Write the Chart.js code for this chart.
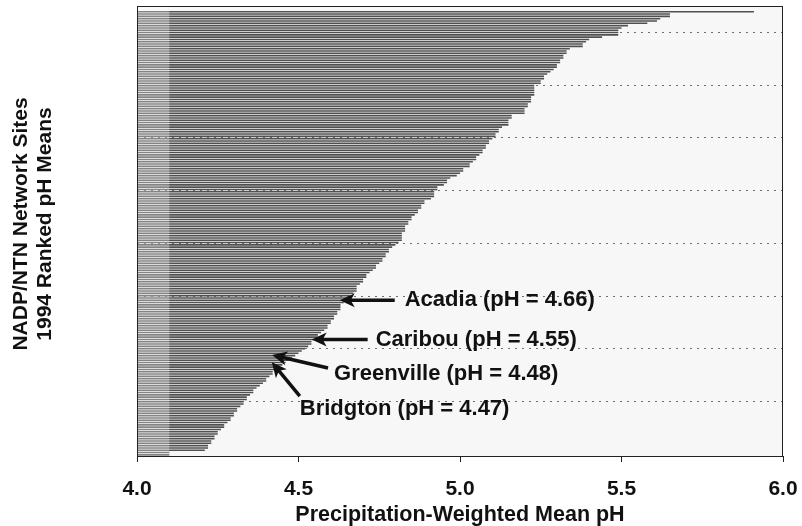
<!DOCTYPE html>
<html lang="en">
<head>
<meta charset="UTF-8">
<title>NADP/NTN Network Sites - 1994 Ranked pH Means</title>
<script src="https://cdn.jsdelivr.net/npm/chart.js"></script>
<style>
  body { margin: 0; background: #fff; }
  #wrap { width: 802px; height: 526px; }
</style>
</head>
<body>
<div id="wrap"><canvas id="chartPH"></canvas></div>
<script>
  // precipitation-weighted mean pH per site, ranked from highest (top) to lowest
  const phMeans = [
    null, null,
    5.91, 5.65, 5.65, 5.62, 5.61, 5.58, 5.52, 5.50, 5.49, 5.49,
    5.49, 5.44, 5.40, 5.39, 5.38, 5.38, 5.34, 5.33, 5.33, 5.32,
    5.32, 5.31, 5.31, 5.30, 5.30, 5.29, 5.28, 5.27, 5.26, 5.26,
    5.25, 5.25, 5.23, 5.23, 5.23, 5.23, 5.23, 5.22, 5.22, 5.22,
    5.21, 5.21, 5.20, 5.20, 5.20, 5.16, 5.16, 5.15, 5.15, 5.15,
    5.13, 5.12, 5.12, 5.11, 5.11, 5.10, 5.09, 5.09, 5.08, 5.08,
    5.07, 5.07, 5.06, 5.05, 5.05, 5.04, 5.03, 5.03, 5.01, 5.01,
    5.00, 4.99, 4.97, 4.96, 4.96, 4.95, 4.93, 4.93, 4.92, 4.92,
    4.92, 4.91, 4.89, 4.89, 4.88, 4.88, 4.87, 4.87, 4.86, 4.85,
    4.85, 4.84, 4.84, 4.83, 4.83, 4.83, 4.82, 4.82, 4.82, 4.82,
    4.81, 4.80, 4.79, 4.78, 4.78, 4.77, 4.77, 4.76, 4.76, 4.75,
    4.74, 4.74, 4.73, 4.72, 4.71, 4.71, 4.70, 4.70, 4.69, 4.68,
    4.68, 4.68, 4.67, 4.66, 4.65, 4.64, 4.64, 4.63, 4.63, 4.63,
    4.62, 4.62, 4.61, 4.61, 4.60, 4.60, 4.59, 4.59, 4.58, 4.57,
    4.56, 4.56, 4.55, 4.54, 4.54, 4.53, 4.52, 4.51, 4.50, 4.49,
    4.48, 4.47, 4.46, 4.45, 4.44, 4.43, 4.42, 4.42, 4.41, 4.40,
    4.40, 4.39, 4.38, 4.37, 4.36, 4.36, 4.35, 4.34, 4.34, 4.33,
    4.33, 4.32, 4.31, 4.31, 4.30, 4.30, 4.29, 4.29, 4.28, 4.27,
    4.27, 4.26, 4.25, 4.25, 4.24, 4.24, 4.23, 4.23, 4.22, 4.22,
    4.21, 4.10, 4.10
  ];
  const siteRanks = phMeans.map((v, i) => String(i + 1));

  const xTicks = [4.0, 4.5, 5.0, 5.5, 6.0];
  // dotted reference lines, counted in ranks from the bottom of the plot
  const gridRanks = [25, 50, 75, 100, 125, 150, 175, 200];
  const RANK_MIN = -1.08, RANK_MAX = 212.33;

  const notedSites = ['Acadia', 'Caribou', 'Greenville', 'Bridgton'];
  const notedPH = [4.66, 4.55, 4.48, 4.47];
  const notedIndex = [127, 144, 152, 153];

  const yTitle = ['NADP/NTN Network Sites', '1994 Ranked pH Means'];
  const xTitle = 'Precipitation-Weighted Mean pH';

  const FONT = '"Liberation Sans", Arial, sans-serif';

  // where the arrow tail and the label sit, relative to the arrow tip (px)
  const noteLayout = [
    { tip: [-4, 0],   tail: [55, 0],  text: [65, 0] },
    { tip: [-3, 0],   tail: [56, 0],  text: [64, 0] },
    { tip: [-20, -3], tail: [56, 13], text: [62, 19] },
    { tip: [-17, 2],  tail: [28, 34], text: [28, 47] }
  ];

  function drawArrow(ctx, x0, y0, x1, y1) {
    const a = Math.atan2(y1 - y0, x1 - x0);
    const head = 15, half = 7;
    const cos = Math.cos(a), sin = Math.sin(a);
    const bx = x1 - head * cos, by = y1 - head * sin;
    ctx.lineWidth = 3.5;
    ctx.beginPath();
    ctx.moveTo(x0, y0);
    ctx.lineTo(x1 - 10 * cos, y1 - 10 * sin);
    ctx.stroke();
    ctx.beginPath();
    ctx.moveTo(x1, y1);
    ctx.lineTo(bx + half * sin, by - half * cos);
    ctx.lineTo(x1 - 11 * cos, y1 - 11 * sin);
    ctx.lineTo(bx - half * sin, by + half * cos);
    ctx.closePath();
    ctx.fill();
  }

  const framePlugin = {
    id: 'framePlugin',
    beforeDraw(chart) {
      const { ctx, chartArea: a } = chart;
      ctx.save();
      ctx.fillStyle = '#f7f7f7';
      ctx.fillRect(a.left, a.top, a.right - a.left, a.bottom - a.top);
      ctx.restore();
    },
    beforeDatasetsDraw(chart) {
      // dotted rank gridlines
      const { ctx, chartArea: a } = chart;
      const h = a.bottom - a.top;
      ctx.save();
      ctx.strokeStyle = '#707070';
      ctx.lineWidth = 1;
      ctx.setLineDash([2, 5]);
      gridRanks.forEach(r => {
        const y = Math.round(a.bottom - (r - RANK_MIN) / (RANK_MAX - RANK_MIN) * h) + 0.5;
        ctx.beginPath();
        ctx.moveTo(a.left, y);
        ctx.lineTo(a.right, y);
        ctx.stroke();
      });
      ctx.restore();
    },
    afterDatasetsDraw(chart) {
      const { ctx, chartArea: a } = chart;
      const xs = chart.scales.x, ys = chart.scales.y;
      ctx.save();
      // lighter band between 4.0 and 4.1
      const s0 = xs.getPixelForValue(4.0), s1 = xs.getPixelForValue(4.1);
      ctx.fillStyle = 'rgba(255,255,255,0.3)';
      ctx.fillRect(s0, a.top, s1 - s0, a.bottom - a.top);
      // frame
      ctx.strokeStyle = '#222';
      ctx.lineWidth = 1;
      ctx.strokeRect(a.left + 0.5, a.top + 0.5, a.right - a.left - 1, a.bottom - a.top);

      // arrows and labels
      ctx.fillStyle = '#111';
      ctx.strokeStyle = '#111';
      ctx.font = 'bold 22px ' + FONT;
      ctx.textBaseline = 'middle';
      ctx.textAlign = 'left';
      notedSites.forEach((name, k) => {
        const idx = notedIndex[k];
        const L = noteLayout[k];
        const tx = xs.getPixelForValue(phMeans[idx]) + L.tip[0];
        const ty = ys.getPixelForValue(idx) + L.tip[1];
        drawArrow(ctx, tx + L.tail[0], ty + L.tail[1], tx, ty);
        ctx.fillText(name + ' (pH = ' + notedPH[k].toFixed(2) + ')', tx + L.text[0], ty + L.text[1]);
      });

      // y axis title, two lines, rotated
      ctx.font = 'bold 21px ' + FONT;
      ctx.textAlign = 'center';
      ctx.translate(0, 224);
      ctx.rotate(-Math.PI / 2);
      ctx.fillText(yTitle[0], 0, 21);
      ctx.fillText(yTitle[1], 0, 45);
      ctx.restore();
    }
  };

  const ctxPH = document.getElementById('chartPH').getContext('2d');
  const chartPH = new Chart(ctxPH, {
    type: 'bar',
    data: {
      labels: siteRanks,
      datasets: [{
        data: phMeans,
        base: 4.0,
        backgroundColor: '#505050',
        barPercentage: 0.68,
        categoryPercentage: 1
      }]
    },
    options: {
      indexAxis: 'y',
      responsive: true,
      maintainAspectRatio: false,
      animation: false,
      layout: { padding: { top: 6, right: 19, bottom: 0, left: 0 } },
      plugins: { legend: { display: false }, tooltip: { enabled: false } },
      scales: {
        x: {
          type: 'linear',
          position: 'bottom',
          min: 4.0,
          max: 6.0,
          afterBuildTicks: s => { s.ticks = xTicks.map(v => ({ value: v })); },
          ticks: {
            callback: v => v.toFixed(1),
            color: '#111',
            padding: 15,
            font: { family: FONT, size: 21, weight: 'bold' }
          },
          grid: { drawOnChartArea: false, drawTicks: true, tickLength: 6, color: '#222' },
          border: { display: false },
          title: {
            display: true,
            text: xTitle,
            color: '#111',
            padding: 0,
            font: { family: FONT, size: 21.5, weight: 'bold', lineHeight: 1 }
          },
          afterFit: s => { s.height = 70; s.paddingLeft = 0; s.paddingRight = 0; }
        },
        y: {
          type: 'category',
          position: 'left',
          ticks: { display: false },
          grid: { display: false },
          border: { display: false },
          afterFit: s => { s.width = 137; s.paddingTop = 0; s.paddingBottom = 0; }
        }
      }
    },
    plugins: [framePlugin]
  });
</script>
</body>
</html>
